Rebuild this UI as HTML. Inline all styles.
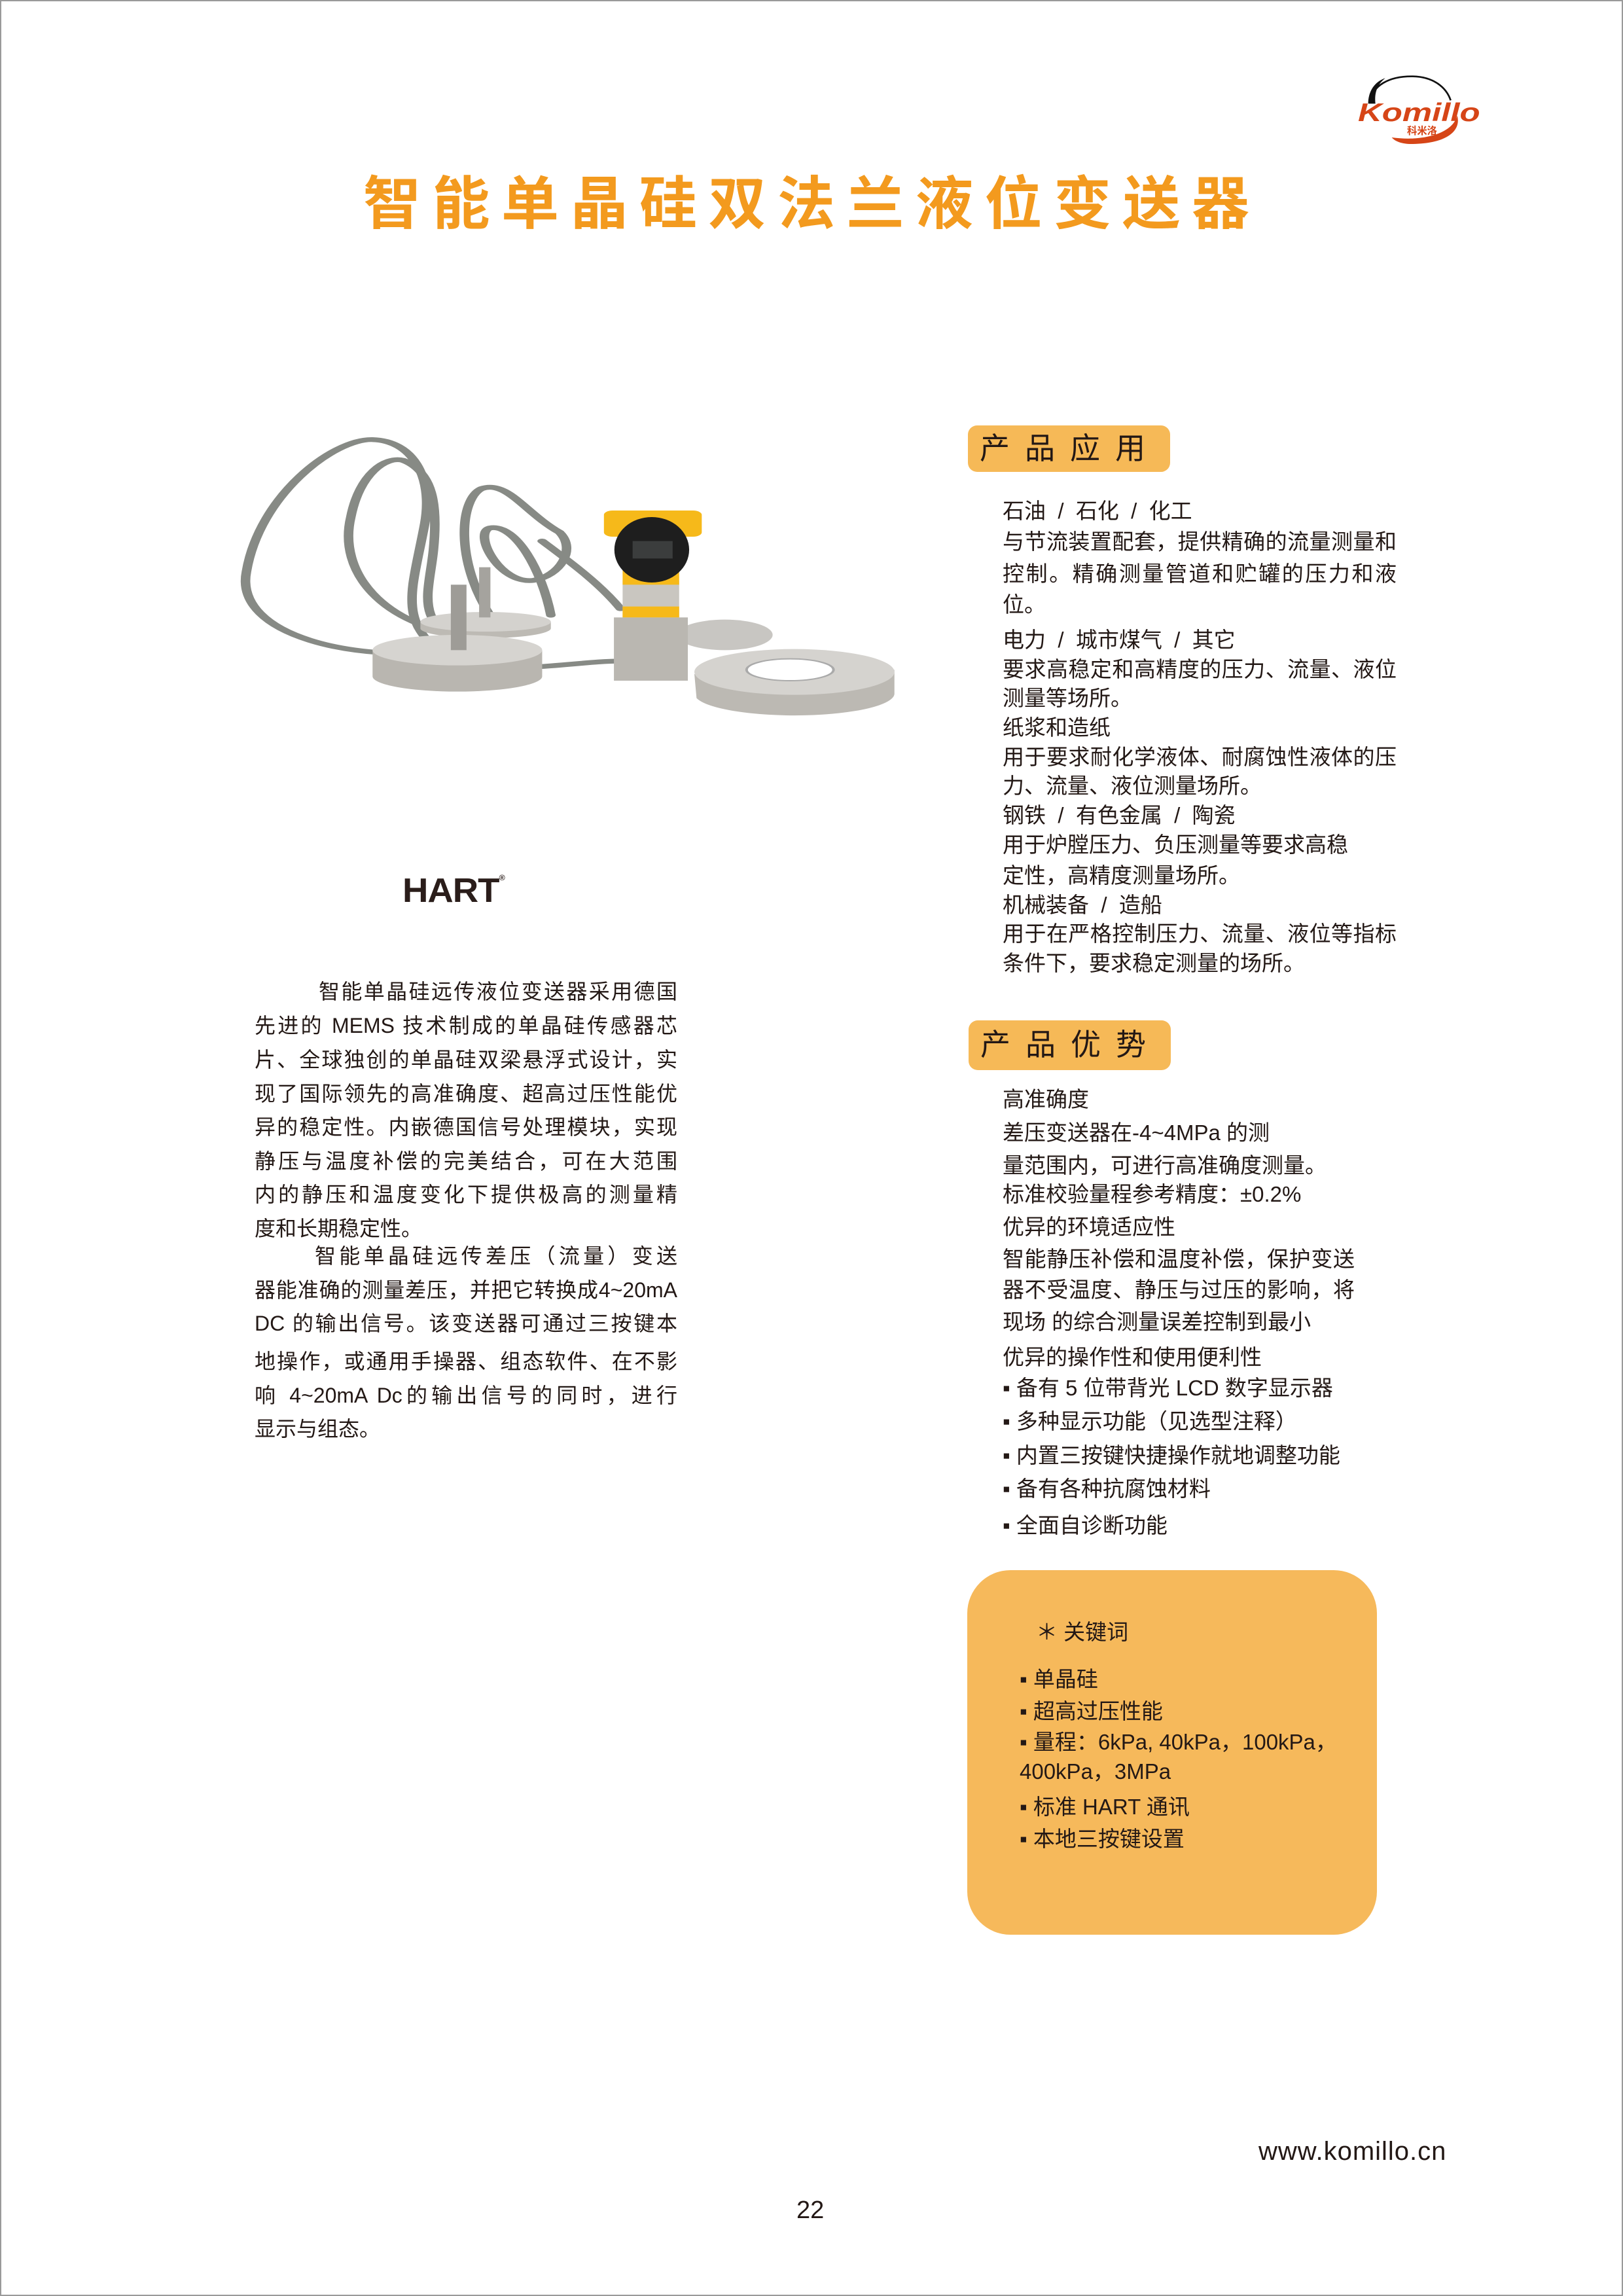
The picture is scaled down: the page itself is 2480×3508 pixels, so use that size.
<!DOCTYPE html>
<html><head><meta charset="utf-8"><style>
body{margin:0}
#p{position:relative;width:2480px;height:3508px;background:#fff;overflow:hidden;font-family:"Liberation Sans","Noto Sans CJK SC",sans-serif;color:#231815}
.b{position:absolute;left:0;top:0;width:2476px;height:3504px;border:2px solid #9a9a9a}
.l{position:absolute;white-space:nowrap;line-height:1}
.L{font-size:32px;width:646px;left:389px}
.R{font-size:33px;left:1532px}
.j{text-align:justify;text-align-last:justify;width:602px;white-space:normal}
.jl{text-align:justify;text-align-last:justify;white-space:normal}
.hb{position:absolute;background:#f6b957;border-radius:14px;font-size:46px;letter-spacing:23px;line-height:1;padding-left:18px;box-sizing:border-box}
</style></head><body><div id="p">
<div class="b"></div>

<!-- logo -->
<svg style="position:absolute;left:2070px;top:110px" width="200" height="110" viewBox="0 0 600 330">
<path d="M70 140 C80 60 160 20 260 20 C360 20 420 70 440 130" fill="none" stroke="#111" stroke-width="8"/>
<path d="M62 145 C62 90 90 45 140 28 C100 60 90 100 95 145 Z" fill="#111"/>
<path d="M170 300 C320 320 450 280 470 200 C490 270 420 330 260 330 C215 330 185 318 170 300Z" fill="#d64517"/>
<text x="15" y="225" font-family="Liberation Sans" font-weight="bold" font-style="italic" font-size="118" fill="#d64517" textLength="560" lengthAdjust="spacingAndGlyphs">Komillo</text>
<text x="240" y="285" font-family="Noto Sans CJK SC" font-weight="bold" font-size="46" fill="#d64517">科米洛</text>
</svg>

<div class="l" style="left:555px;top:268px;font-size:88px;font-weight:bold;letter-spacing:17.5px;color:#f39a1e">智能单晶硅双法兰液位变送器</div>

<!-- product picture -->
<svg style="position:absolute;left:350px;top:640px" width="1030" height="480" viewBox="0 0 1550 1440" preserveAspectRatio="none">
<g fill="none" stroke="#878a85" stroke-width="22" stroke-linecap="round">
<path d="M520 1060 C300 1120 10 1000 40 700 C70 350 240 90 330 95 C420 100 470 260 450 480 C420 800 380 950 520 1110 C620 1180 800 1110 900 1110"/>
<path d="M560 1000 C350 950 250 700 280 450 C300 250 360 170 400 190 C470 240 480 400 470 600 C460 800 420 950 560 1040"/>
<path d="M600 900 C520 650 530 370 580 320 C640 280 680 430 760 520 C800 600 760 720 700 740 C620 760 560 520 600 500 C660 480 720 700 740 900"/>
<path d="M900 870 C850 750 780 650 720 560"/>
</g>
<path d="M440 930 L440 960 A150 45 0 0 0 740 960 L740 930 Z" fill="#bdbab4"/>
<ellipse cx="590" cy="930" rx="150" ry="45" fill="#d4d2ce"/>
<path d="M330 1060 L330 1180 A195 70 0 0 0 720 1180 L720 1060 Z" fill="#b9b6b0"/>
<ellipse cx="525" cy="1060" rx="195" ry="70" fill="#d6d4d0"/>
<rect x="510" y="760" width="36" height="300" fill="#9e9c97"/>
<rect x="575" y="680" width="26" height="230" fill="#a5a39e"/>
<ellipse cx="1140" cy="990" rx="110" ry="70" fill="#c8c6c2"/>
<path d="M1070 1170 L1075 1280 A230 100 0 0 0 1530 1260 L1530 1150 Z" fill="#bcb9b3"/>
<ellipse cx="1300" cy="1160" rx="230" ry="105" fill="#d5d3cf"/>
<ellipse cx="1290" cy="1150" rx="100" ry="50" fill="#fff" stroke="#aaa" stroke-width="6"/>
<rect x="885" y="910" width="170" height="290" fill="#bab7b1"/>
<rect x="905" y="740" width="130" height="170" fill="#c9c6c0"/>
<rect x="905" y="860" width="130" height="50" fill="#f6b91a"/>
<rect x="862" y="420" width="225" height="120" rx="20" fill="#f6b91a"/>
<rect x="905" y="520" width="130" height="240" fill="#f6b91a"/>
<ellipse cx="972" cy="600" rx="86" ry="150" fill="#1e1e1e"/>
<rect x="928" y="560" width="92" height="80" fill="#3b3d3d"/>
</svg>

<!-- HART -->
<div class="l" style="left:615px;top:1335px;font-size:52px;font-weight:900;letter-spacing:-1px;color:#2a1d1a;font-family:'Liberation Sans',sans-serif;transform:scaleX(1.05);transform-origin:left">HART<span style="font-size:12px;vertical-align:top">®</span></div>

<!-- left paragraph -->
<div class="l L jl" style="top:1499px;left:487px;width:548px">智能单晶硅远传液位变送器采用德国</div>
<div class="l L jl" style="top:1551px">先进的 MEMS 技术制成的单晶硅传感器芯</div>
<div class="l L jl" style="top:1603px">片、全球独创的单晶硅双梁悬浮式设计，实</div>
<div class="l L jl" style="top:1655px">现了国际领先的高准确度、超高过压性能优</div>
<div class="l L jl" style="top:1706px">异的稳定性。内嵌德国信号处理模块，实现</div>
<div class="l L jl" style="top:1758px">静压与温度补偿的完美结合，可在大范围</div>
<div class="l L jl" style="top:1809px">内的静压和温度变化下提供极高的测量精</div>
<div class="l L" style="top:1861px">度和长期稳定性。</div>
<div class="l L jl" style="top:1903px;left:481px;width:554px">智能单晶硅远传差压（流量）变送</div>
<div class="l L jl" style="top:1955px">器能准确的测量差压，并把它转换成4~20mA</div>
<div class="l L jl" style="top:2006px">DC 的输出信号。该变送器可通过三按键本</div>
<div class="l L jl" style="top:2064px">地操作，或通用手操器、组态软件、在不影</div>
<div class="l L jl" style="top:2116px">响 4~20mA Dc的输出信号的同时，进行</div>
<div class="l L" style="top:2167px">显示与组态。</div>

<!-- 产品应用 -->
<div class="hb" style="left:1479px;top:650px;width:309px;height:71px;padding-top:12px">产品应用</div>
<div class="l R" style="top:764px">石油 &nbsp;/ &nbsp;石化 &nbsp;/ &nbsp;化工</div>
<div class="l R j" style="top:811px">与节流装置配套，提供精确的流量测量和</div>
<div class="l R j" style="top:860px">控制。精确测量管道和贮罐的压力和液</div>
<div class="l R" style="top:907px">位。</div>
<div class="l R" style="top:961px">电力 &nbsp;/ &nbsp;城市煤气 &nbsp;/ &nbsp;其它</div>
<div class="l R j" style="top:1006px">要求高稳定和高精度的压力、流量、液位</div>
<div class="l R" style="top:1050px">测量等场所。</div>
<div class="l R" style="top:1095px">纸浆和造纸</div>
<div class="l R j" style="top:1140px">用于要求耐化学液体、耐腐蚀性液体的压</div>
<div class="l R" style="top:1184px">力、流量、液位测量场所。</div>
<div class="l R" style="top:1229px">钢铁 &nbsp;/ &nbsp;有色金属 &nbsp;/ &nbsp;陶瓷</div>
<div class="l R" style="top:1274px">用于炉膛压力、负压测量等要求高稳</div>
<div class="l R" style="top:1321px">定性，高精度测量场所。</div>
<div class="l R" style="top:1366px">机械装备 &nbsp;/ &nbsp;造船</div>
<div class="l R j" style="top:1410px">用于在严格控制压力、流量、液位等指标</div>
<div class="l R" style="top:1455px">条件下，要求稳定测量的场所。</div>

<!-- 产品优势 -->
<div class="hb" style="left:1480px;top:1559px;width:309px;height:76px;padding-top:14px">产品优势</div>
<div class="l R" style="top:1663px">高准确度</div>
<div class="l R" style="top:1714px">差压变送器在-4~4MPa 的测</div>
<div class="l R" style="top:1764px">量范围内，可进行高准确度测量。</div>
<div class="l R" style="top:1808px">标准校验量程参考精度：±0.2%</div>
<div class="l R" style="top:1858px">优异的环境适应性</div>
<div class="l R" style="top:1907px;width:538px;text-align:justify;text-align-last:justify;white-space:normal">智能静压补偿和温度补偿，保护变送</div>
<div class="l R" style="top:1954px;width:538px;text-align:justify;text-align-last:justify;white-space:normal">器不受温度、静压与过压的影响，将</div>
<div class="l R" style="top:2003px">现场 的综合测量误差控制到最小</div>
<div class="l R" style="top:2057px">优异的操作性和使用便利性</div>
<div class="l R" style="top:2104px">▪ 备有 5 位带背光 LCD 数字显示器</div>
<div class="l R" style="top:2155px">▪ 多种显示功能（见选型注释）</div>
<div class="l R" style="top:2207px">▪ 内置三按键快捷操作就地调整功能</div>
<div class="l R" style="top:2258px">▪ 备有各种抗腐蚀材料</div>
<div class="l R" style="top:2314px">▪ 全面自诊断功能</div>

<!-- keyword card -->
<div style="position:absolute;left:1478px;top:2399px;width:626px;height:557px;background:#f6b95b;border-radius:66px"></div>
<div class="l R" style="left:1583px;top:2477px">＊ 关键词</div>
<div class="l R" style="left:1558px;top:2549px">▪ 单晶硅</div>
<div class="l R" style="left:1558px;top:2598px">▪ 超高过压性能</div>
<div class="l R" style="left:1558px;top:2645px">▪ 量程：6kPa, 40kPa，100kPa，</div>
<div class="l R" style="left:1558px;top:2690px">400kPa，3MPa</div>
<div class="l R" style="left:1558px;top:2744px">▪ 标准 HART 通讯</div>
<div class="l R" style="left:1558px;top:2793px">▪ 本地三按键设置</div>

<div class="l" style="left:1923px;top:3267px;font-size:40px;letter-spacing:1px">www.komillo.cn</div>
<div class="l" style="left:1217px;top:3358px;font-size:38px">22</div>
</div></body></html>
